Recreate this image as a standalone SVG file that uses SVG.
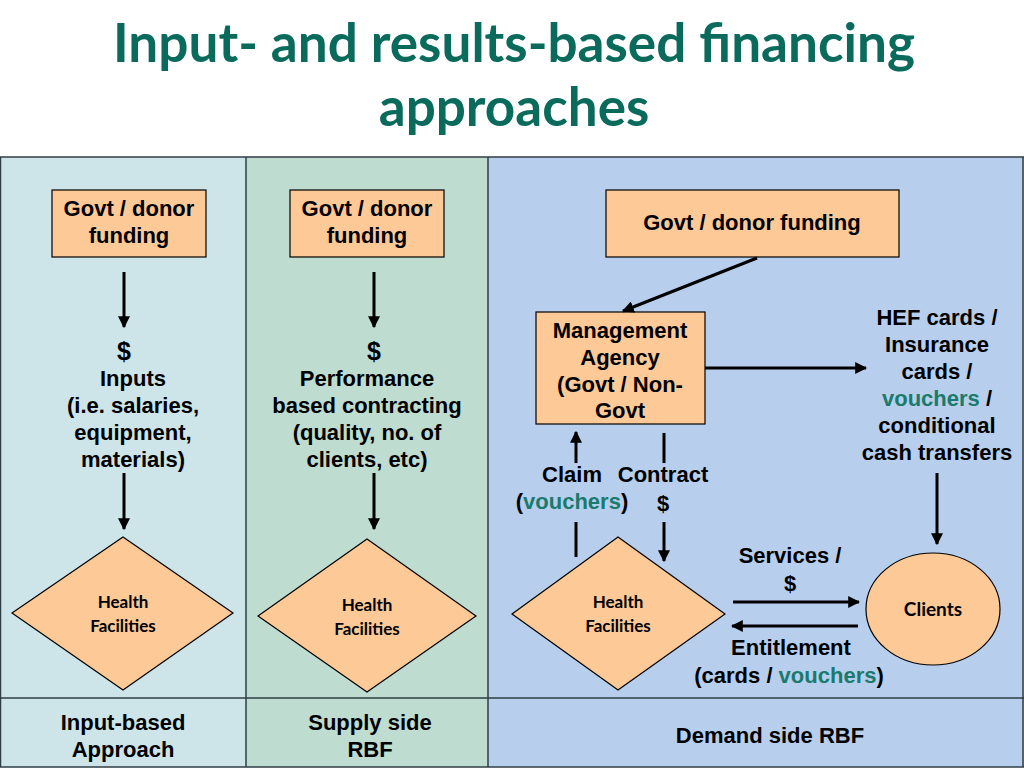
<svg xmlns="http://www.w3.org/2000/svg" width="1024" height="768" viewBox="0 0 1024 768">
<style>
.t{font-family:"Liberation Sans",Arial,sans-serif;font-weight:bold;font-size:22px;fill:#000;text-anchor:middle}
.d{font-size:25px}
.c{font-family:Lato,"Open Sans",sans-serif;font-weight:bold;font-size:17px;fill:#000;text-anchor:middle}
.title{font-family:Lato,"Open Sans",sans-serif;font-weight:bold;font-size:53px;fill:#0a6b5c;text-anchor:middle}
.v{fill:#1a7a6c}
.box{fill:#fdc996;stroke:#000;stroke-width:1.2}
.ln{stroke:#000;stroke-width:3;fill:none}
.grid{stroke:#2f3d45;stroke-width:1.5;fill:none}
</style>
<defs>
<marker id="ah" viewBox="0 0 10 10" refX="9" refY="5" markerWidth="4" markerHeight="4" orient="auto" markerUnits="strokeWidth">
<path d="M0,0 L10,5 L0,10 z" fill="#000"/>
</marker>
</defs>
<rect width="1024" height="768" fill="#fff"/>
<g id="title">
<text class="title" x="514" y="62" textLength="802" lengthAdjust="spacingAndGlyphs">Input- and results-based financing</text>
<text class="title" x="514" y="126">approaches</text>
</g>
<g id="columns">
<rect x="0" y="157" width="246" height="610" fill="#cde5e8"/>
<rect x="246" y="157" width="242" height="610" fill="#bedcd0"/>
<rect x="488" y="157" width="536" height="610" fill="#b7cfec"/>
<line class="grid" x1="0" y1="157" x2="1024" y2="157"/>
<line class="grid" x1="0" y1="767" x2="1024" y2="767"/>
<line class="grid" x1="0.5" y1="157" x2="0.5" y2="767"/>
<line class="grid" x1="1023" y1="157" x2="1023" y2="767"/>
<line class="grid" x1="246" y1="157" x2="246" y2="767"/>
<line class="grid" x1="488" y1="157" x2="488" y2="767"/>
<line class="grid" x1="0" y1="698" x2="1024" y2="698"/>
<text class="t" x="123" y="730">Input-based</text>
<text class="t" x="123" y="757">Approach</text>
<text class="t" x="370" y="730">Supply side</text>
<text class="t" x="370" y="757">RBF</text>
<text class="t" x="770" y="743">Demand side RBF</text>
</g>
<g id="funding1">
<rect class="box" x="52" y="190" width="154" height="67"/>
<text class="t" x="129" y="216">Govt / donor</text>
<text class="t" x="129" y="243">funding</text>
</g>
<g id="funding2">
<rect class="box" x="290" y="190" width="154" height="67"/>
<text class="t" x="367" y="216">Govt / donor</text>
<text class="t" x="367" y="243">funding</text>
</g>
<g id="funding3">
<rect class="box" x="606" y="190" width="293" height="67"/>
<text class="t" x="752" y="230">Govt / donor funding</text>
</g>
<g id="inputs">
<text class="t d" x="124" y="360">$</text>
<text class="t" x="133" y="386">Inputs</text>
<text class="t" x="133" y="413">(i.e. salaries,</text>
<text class="t" x="133" y="440">equipment,</text>
<text class="t" x="133" y="467">materials)</text>
</g>
<g id="performance">
<text class="t d" x="374" y="360">$</text>
<text class="t" x="367" y="386">Performance</text>
<text class="t" x="367" y="413">based contracting</text>
<text class="t" x="367" y="440">(quality, no. of</text>
<text class="t" x="367" y="467">clients, etc)</text>
</g>
<g id="hf1">
<polygon class="box" points="123,537 233,613 123,690 12,613"/>
<text class="c" x="123" y="608">Health</text>
<text class="c" x="123" y="632">Facilities</text>
</g>
<g id="hf2">
<polygon class="box" points="367,539 476,616 367,692 258,616"/>
<text class="c" x="367" y="611">Health</text>
<text class="c" x="367" y="635">Facilities</text>
</g>
<g id="hf3">
<polygon class="box" points="618,537 725,614 618,690 512,614"/>
<text class="c" x="618" y="608">Health</text>
<text class="c" x="618" y="632">Facilities</text>
</g>
<g id="agency">
<rect class="box" x="536" y="312" width="169" height="112"/>
<text class="t" x="620" y="338">Management</text>
<text class="t" x="620" y="365">Agency</text>
<text class="t" x="620" y="392">(Govt / Non-</text>
<text class="t" x="620" y="418">Govt</text>
</g>
<g id="hef">
<text class="t" x="937" y="325">HEF cards /</text>
<text class="t" x="937" y="352">Insurance</text>
<text class="t" x="937" y="379">cards /</text>
<text class="t" x="937" y="406"><tspan class="v">vouchers</tspan> /</text>
<text class="t" x="937" y="433">conditional</text>
<text class="t" x="937" y="460">cash transfers</text>
</g>
<g id="clients">
<ellipse class="box" cx="933" cy="609" rx="67" ry="56"/>
<text class="c" x="933" y="616" style="font-size:19px">Clients</text>
</g>
<g id="connectors">
<line class="ln" x1="124" y1="272" x2="124" y2="327" marker-end="url(#ah)"/>
<line class="ln" x1="124" y1="473" x2="124" y2="529" marker-end="url(#ah)"/>
<line class="ln" x1="374" y1="272" x2="374" y2="327" marker-end="url(#ah)"/>
<line class="ln" x1="374" y1="473" x2="374" y2="529" marker-end="url(#ah)"/>
<line class="ln" x1="757" y1="258" x2="623" y2="311" marker-end="url(#ah)"/>
<line class="ln" x1="705" y1="368" x2="866" y2="368" marker-end="url(#ah)"/>
<line class="ln" x1="937" y1="473" x2="937" y2="544" marker-end="url(#ah)"/>
<line class="ln" x1="576" y1="463" x2="576" y2="432" marker-end="url(#ah)"/>
<line class="ln" x1="576" y1="522" x2="576" y2="557"/>
<line class="ln" x1="664" y1="433" x2="664" y2="463"/>
<line class="ln" x1="664" y1="522" x2="664" y2="561" marker-end="url(#ah)"/>
<line class="ln" x1="733" y1="602" x2="859" y2="602" marker-end="url(#ah)"/>
<line class="ln" x1="858" y1="626" x2="732" y2="626" marker-end="url(#ah)"/>
</g>
<g id="labels">
<text class="t" x="572" y="482">Claim</text>
<text class="t" x="663" y="482">Contract</text>
<text class="t" x="572" y="509">(<tspan class="v">vouchers</tspan>)</text>
<text class="t" x="663" y="511">$</text>
<text class="t" x="790" y="563">Services /</text>
<text class="t" x="790" y="591">$</text>
<text class="t" x="791" y="655">Entitlement</text>
<text class="t" x="789" y="683">(cards / <tspan class="v">vouchers</tspan>)</text>
</g>
</svg>
